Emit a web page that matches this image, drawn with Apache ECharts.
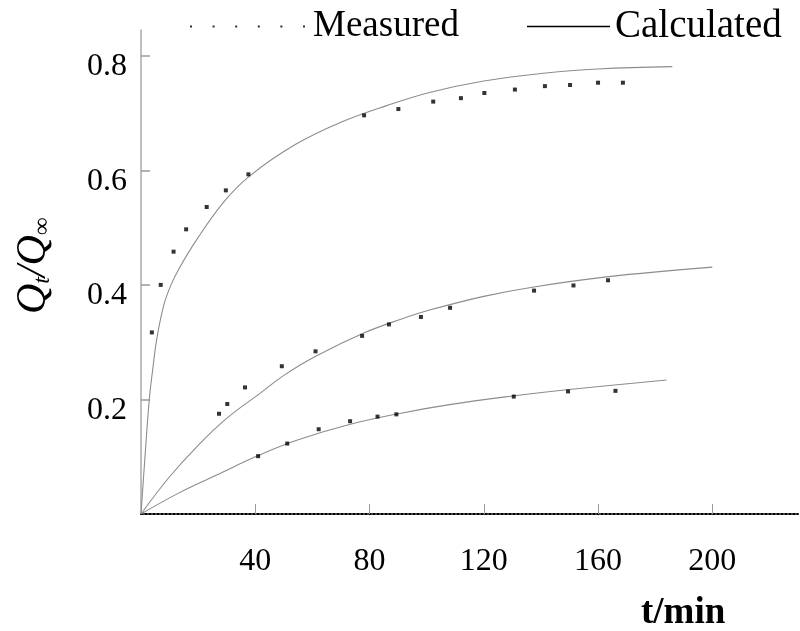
<!DOCTYPE html>
<html>
<head>
<meta charset="utf-8">
<script src="https://cdn.jsdelivr.net/npm/echarts@6/dist/echarts.min.js"></script>
<style>
  html, body { margin: 0; padding: 0; background: #fff; }
  #main { width: 800px; height: 631px; }
</style>
</head>
<body>
<div id="main"></div>
<script>
// measured points (t/min, Qt/Qinf)
var measured1 = [[3.8,0.317],[6.9,0.40],[11.4,0.458],[15.8,0.497],[23.0,0.536],[29.7,0.565],[37.6,0.593],
  [78.1,0.696],[90.1,0.707],[102.3,0.720],[112.0,0.726],[120.2,0.735],[130.9,0.741],[141.4,0.747],
  [150.2,0.749],[160.0,0.753],[168.7,0.753]];
var measured2 = [[27.3,0.175],[30.2,0.192],[36.4,0.221],[49.3,0.258],[61.1,0.284],[77.4,0.311],[86.8,0.331],
  [98.0,0.344],[108.2,0.360],[137.6,0.390],[151.4,0.399],[163.5,0.408]];
var measured3 = [[41.0,0.101],[51.2,0.123],[62.2,0.148],[73.2,0.162],[82.8,0.170],[89.4,0.174],
  [130.5,0.205],[149.5,0.214],[166.1,0.215]];

// calculated curves
var calc1 = [[0,0],[1.4,0.1],[2.9,0.2],[4.1,0.252],[5.5,0.305],[8,0.365],[10.5,0.4],[13.5,0.43],[19.5,0.479],
  [29,0.545],[38,0.59],[54,0.645],[70,0.684],[86,0.713],[101,0.736],[120,0.756],[140,0.769],[160,0.777],[186,0.781]];
var calc2 = [[0,0],[10,0.065],[20,0.12],[30,0.167],[42,0.212],[50,0.242],[61,0.275],[78,0.316],[91,0.34],
  [101,0.356],[120,0.38],[137,0.396],[163,0.414],[200,0.431]];
var calc3 = [[0,0],[13,0.036],[26.5,0.068],[41,0.102],[54,0.128],[72,0.155],[91,0.176],[108,0.191],
  [130,0.206],[149,0.217],[184,0.234]];

var xTicks = [40, 80, 120, 160, 200];
var yTicks = [0.2, 0.4, 0.6, 0.8];

var myChart = echarts.init(document.getElementById('main'));
var font = 'Liberation Serif';

function measuredSeries(data) {
  return {
    name: 'Measured',
    type: 'scatter',
    data: data,
    symbol: 'rect',
    symbolSize: 4,
    itemStyle: { color: '#000' },
    silent: true,
    z: 3
  };
}
function calcSeries(data) {
  return {
    name: 'Calculated',
    type: 'line',
    data: data,
    smooth: 0.4,
    showSymbol: false,
    lineStyle: { color: '#8c8c8c', width: 1.1 },
    itemStyle: { color: '#000' },
    z: 2
  };
}

var option = {
  animation: false,
  title: {
    text: 't/min',
    left: 636,
    top: 590,
    textStyle: { fontFamily: font, fontSize: 37, fontWeight: 'bold', color: '#000' }
  },
  // two legends so each item sits where it does in the figure
  legend: [{
    top: 8,
    left: 190,
    padding: 0,
    itemWidth: 115,
    itemHeight: 2.5,
    icon: 'path://M0,0h2v2h-2zM22,0h2v2h-2zM44,0h2v2h-2zM66,0h2v2h-2zM88,0h2v2h-2zM110,0h2v2h-2z',
    textStyle: { fontFamily: font, fontSize: 37, color: '#000', padding: [0, 0, 0, 3] },
    data: ['Measured']
  }, {
    top: 7,
    left: 527,
    padding: 0,
    itemWidth: 83,
    itemHeight: 1.5,
    icon: 'rect',
    textStyle: { fontFamily: font, fontSize: 39, color: '#000' },
    data: ['Calculated']
  }],
  grid: { left: 141, right: 2, top: 30, bottom: 117 },
  xAxis: {
    type: 'value',
    min: 0,
    max: 230,
    axisLine: { show: true, lineStyle: { color: '#000', type: 'dotted', width: 2 } },
    axisTick: { show: true, inside: true, length: 10, customValues: xTicks, lineStyle: { color: '#999', width: 1 } },
    axisLabel: { customValues: xTicks, margin: 32, fontFamily: font, fontSize: 32, color: '#000' },
    splitLine: { show: false }
  },
  yAxis: {
    type: 'value',
    min: 0,
    max: 0.845,
    name: '{a|Q}{b|t}{a|/Q}{b|∞}',
    nameLocation: 'middle',
    nameRotate: 90,
    nameGap: 86,
    nameTextStyle: {
      padding: [0, 0, 0, 12],
      rich: {
        a: { fontFamily: font, fontStyle: 'italic', fontSize: 42, lineHeight: 46, verticalAlign: 'bottom', color: '#000' },
        b: { fontFamily: font, fontStyle: 'italic', fontSize: 24, lineHeight: 25, verticalAlign: 'bottom', color: '#000' }
      }
    },
    axisLine: { show: true, lineStyle: { color: '#aaa', width: 1.5 } },
    axisTick: { show: true, inside: true, length: 9, customValues: yTicks, lineStyle: { color: '#999', width: 1.5 } },
    axisLabel: { customValues: yTicks, margin: 14, verticalAlign: 'top', lineHeight: 22, fontFamily: font, fontSize: 32, color: '#000' },
    splitLine: { show: false }
  },
  series: [
    calcSeries(calc1), calcSeries(calc2), calcSeries(calc3),
    measuredSeries(measured1), measuredSeries(measured2), measuredSeries(measured3)
  ]
};
myChart.setOption(option);
</script>
</body>
</html>
